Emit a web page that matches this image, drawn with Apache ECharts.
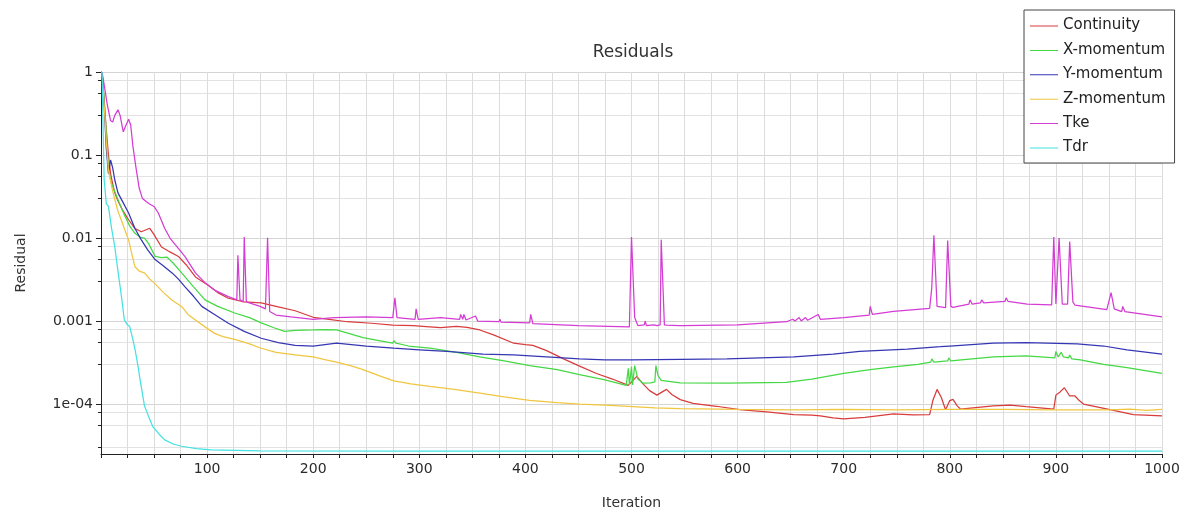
<!DOCTYPE html>
<html><head><meta charset="utf-8">
<script src="https://cdn.jsdelivr.net/npm/echarts@6/dist/echarts.min.js"></script>
<style>html,body{margin:0;padding:0;background:#fff}#c{width:1192px;height:518px}</style>
</head><body><div id="c"></div>
<script>
const seriesNames = ['Continuity', 'X-momentum', 'Y-momentum', 'Z-momentum', 'Tke', 'Tdr'];

const continuity = [[1,1],[3,0.45],[5,0.2],[7,0.1],[9,0.06],[11,0.045],[13,0.035],[16,0.028],[20,0.022],[26,0.0166],[32,0.013],[38,0.0119],[42,0.0125],[46,0.0131],[50,0.011],[57,0.0078],[65,0.0068],[73,0.006],[80,0.0048],[89,0.0034],[101,0.0027],[110,0.0022],[120,0.00188],[135,0.0017],[151,0.00165],[165,0.0015],[183,0.00133],[200,0.00111],[215,0.00105],[232,0.00098],[255,0.00094],[275,0.00089],[294,0.00088],[310,0.00085],[320,0.00083],[335,0.00086],[345,0.00084],[357,0.00078],[370,0.00068],[389,0.00054],[400,0.00052],[407,0.00051],[420,0.00044],[436,0.00035],[450,0.00029],[467,0.000233],[482,0.0002],[497,0.000168],[501,0.00019],[505,0.000215],[510,0.00018],[517,0.000145],[524,0.000128],[529,0.00014],[533,0.00015],[538,0.00013],[546,0.000113],[558,0.000102],[580,0.000094],[602,0.0000854],[630,0.00008],[653,0.0000745],[670,0.0000735],[678,0.0000722],[690,0.000068],[700,0.0000664],[720,0.000069],[747,0.0000759],[765,0.000074],[781,0.0000745],[784,0.00011],[788,0.00015],[792,0.00012],[796,0.0000854],[800,0.00011],[803,0.000114],[807,0.000095],[810,0.000087],[841,0.000095],[857,0.000097],[872,0.000093],[898,0.000087],[900,0.000128],[904,0.00014],[908,0.000157],[913,0.000125],[918,0.000125],[922,0.00011],[926,0.0001],[951,0.0000854],[973,0.0000745],[1000,0.0000722]];

const xMomentum = [[1,1],[3,0.45],[5,0.18],[7,0.066],[10,0.045],[13,0.036],[16,0.029],[22,0.019],[27,0.014],[32,0.0114],[37,0.0102],[41,0.010],[45,0.0085],[51,0.006],[57,0.0058],[62,0.0059],[68,0.005],[76,0.0038],[87,0.0026],[98,0.0018],[110,0.0015],[126,0.00125],[140,0.0011],[151,0.00095],[163,0.00083],[173,0.00075],[183,0.00077],[200,0.00078],[212,0.00079],[222,0.00078],[235,0.0007],[247,0.00063],[262,0.00058],[275,0.00054],[276,0.00058],[278,0.00054],[290,0.0005],[310,0.00047],[335,0.00042],[357,0.00037],[380,0.00033],[404,0.00029],[430,0.00026],[451,0.000226],[475,0.000195],[495,0.000168],[497,0.00027],[498,0.00017],[500,0.00028],[501,0.00017],[503,0.00029],[506,0.0002],[511,0.000178],[518,0.00018],[522,0.000185],[523,0.00029],[525,0.00022],[528,0.000193],[546,0.00018],[590,0.000178],[646,0.000182],[670,0.0002],[700,0.000234],[725,0.00026],[747,0.00028],[770,0.0003],[782,0.00032],[783,0.00035],[785,0.00032],[798,0.00033],[799,0.00036],[801,0.00033],[841,0.00037],[872,0.00038],[899,0.00036],[900,0.00043],[902,0.00037],[905,0.00042],[907,0.00037],[912,0.00036],[913,0.00039],[915,0.00035],[923,0.00034],[945,0.0003],[967,0.000274],[1000,0.000234]];

const yMomentum = [[1,1],[3,0.4],[5,0.12],[7,0.06],[9,0.087],[11,0.07],[13,0.05],[16,0.035],[20,0.028],[26,0.02],[32,0.013],[38,0.0095],[44,0.0072],[51,0.0055],[58,0.0047],[67,0.0038],[73,0.0032],[79,0.0026],[87,0.002],[95,0.0015],[107,0.0012],[120,0.00094],[135,0.00075],[151,0.00062],[167,0.00055],[183,0.00051],[200,0.0005],[222,0.00054],[250,0.0005],[276,0.00047],[300,0.00045],[326,0.00043],[360,0.0004],[389,0.00039],[420,0.00037],[451,0.00035],[475,0.00034],[499,0.00034],[546,0.000346],[590,0.00035],[653,0.00037],[690,0.0004],[715,0.00043],[760,0.00046],[791,0.00049],[800,0.0005],[841,0.00054],[872,0.00055],[920,0.00053],[945,0.0005],[967,0.00045],[1000,0.0004]];

const zMomentum = [[1,1],[3,0.4],[5,0.15],[7,0.066],[10,0.042],[13,0.029],[16,0.021],[19,0.0166],[22,0.013],[26,0.0095],[29,0.0065],[32,0.0045],[36,0.004],[41,0.0038],[46,0.0032],[51,0.0028],[59,0.0022],[67,0.00178],[76,0.0015],[82,0.0012],[89,0.00103],[98,0.00085],[107,0.00071],[115,0.00065],[126,0.0006],[140,0.00053],[151,0.00047],[165,0.00042],[183,0.00039],[200,0.00037],[212,0.00034],[222,0.00032],[235,0.00029],[247,0.00026],[262,0.00022],[276,0.00019],[292,0.000175],[310,0.000163],[333,0.00015],[357,0.000135],[380,0.000122],[404,0.000111],[430,0.000104],[451,0.0001],[475,0.000097],[497,0.000094],[522,0.00009],[546,0.000088],[600,0.000086],[650,0.000085],[700,0.000086],[750,0.000085],[800,0.000086],[850,0.000086],[900,0.000085],[950,0.000085],[970,0.000087],[985,0.000084],[1000,0.000086]];

const tke = [[1,1],[3,0.7],[6,0.4],[9,0.26],[11,0.25],[13,0.3],[16,0.35],[18,0.3],[21,0.19],[23,0.22],[26,0.27],[28,0.23],[30,0.13],[33,0.07],[36,0.04],[39,0.03],[45,0.026],[50,0.024],[54,0.02],[60,0.0131],[65,0.01],[70,0.0083],[79,0.006],[89,0.0038],[98,0.0029],[107,0.00236],[120,0.00197],[128,0.0018],[129,0.0062],[131,0.0018],[134,0.0017],[135,0.0103],[137,0.0017],[150,0.0015],[155,0.0014],[157,0.0101],[159,0.0013],[165,0.00118],[179,0.00112],[200,0.00105],[220,0.0011],[250,0.00112],[275,0.0011],[277,0.0019],[279,0.0011],[296,0.00105],[297,0.0014],[299,0.00105],[320,0.0011],[338,0.00105],[339,0.0012],[341,0.00105],[342,0.0012],[344,0.00103],[353,0.00115],[355,0.001],[375,0.00098],[376,0.00105],[377,0.00097],[404,0.00095],[405,0.0012],[407,0.00093],[450,0.00088],[498,0.00085],[500,0.0103],[503,0.0011],[506,0.00088],[512,0.0009],[513,0.001],[514,0.00088],[521,0.0009],[522,0.00095],[524,0.00088],[527,0.0009],[528,0.0095],[531,0.0009],[533,0.00089],[545,0.00088],[546,0.00093],[548,0.00088],[600,0.0009],[646,0.00098],[652,0.00105],[654,0.001],[658,0.0011],[660,0.001],[664,0.0011],[666,0.00102],[676,0.0012],[678,0.00105],[700,0.0011],[724,0.00118],[725,0.0015],[727,0.0012],[747,0.00131],[781,0.00142],[783,0.0025],[785,0.0108],[788,0.0015],[796,0.00145],[798,0.0093],[801,0.0015],[803,0.00146],[818,0.0016],[819,0.0018],[821,0.0016],[829,0.00165],[830,0.0018],[832,0.00165],[852,0.00172],[853,0.0019],[855,0.00172],[873,0.0016],[896,0.00156],[898,0.0103],[900,0.0016],[903,0.01],[906,0.0016],[911,0.0016],[913,0.0091],[916,0.0017],[918,0.00155],[948,0.00137],[952,0.0022],[955,0.0014],[962,0.0013],[963,0.0015],[965,0.0013],[1000,0.00112]];

const tdr = [[1,1],[2,0.2],[3,0.05],[5,0.026],[7,0.024],[10,0.013],[13,0.0078],[16,0.004],[19,0.0021],[22,0.00103],[25,0.0009],[27,0.00086],[30,0.0006],[32,0.00046],[35,0.00028],[37,0.00019],[41,0.000095],[45,0.00007],[49,0.000053],[55,0.000043],[60,0.000037],[68,0.000033],[76,0.000031],[90,0.000029],[104,0.000028],[150,0.0000272],[300,0.000027],[500,0.000027],[700,0.000027],[1000,0.000027]];

const xMin = 0, xMax = 1000, xInterval = 100;
const yMin = 0.000025, yMax = 1;
const yMinorTicks = [0.8,0.55,0.3, 0.08,0.055,0.03, 0.008,0.0055,0.003, 0.0008,0.00055,0.0003, 0.00008,0.000055,0.00003];

const colors = ['#d83c3c', '#45d845', '#3636b4', '#f0c640', '#d43cd4', '#44e2e2'];
const FONT = 'DejaVu Sans';
const allData = [continuity, xMomentum, yMomentum, zMomentum, tke, tdr];
const LINE_ICON = 'path://M0,0L0.01,0M0,7L28,7L28,8L0,8ZM0,14L0.01,14';

const chart = echarts.init(document.getElementById('c'), null, {renderer: 'canvas'});
chart.setOption({
  animation: false,
  backgroundColor: '#fff',
  textStyle: {fontFamily: FONT},
  title: {
    text: 'Residuals', left: 628, top: 39, textAlign: 'center',
    textStyle: {fontSize: 17, fontWeight: 'normal', color: '#333', fontFamily: FONT}
  },
  legend: {
    orient: 'vertical', left: 1024, top: 10,
    icon: LINE_ICON,
    itemWidth: 28, itemHeight: 14, itemGap: 9.4, itemTextGap: 5,
    padding: [8, 9, 8, 6],
    borderColor: '#444', borderWidth: 1, backgroundColor: '#fff',
    textStyle: {fontSize: 15, color: '#222', fontFamily: FONT},
    data: seriesNames.map(function (n, i) { return {name: n, itemStyle: {color: colors[i]}}; })
  },
  grid: {left: 101, right: 30, top: 72, bottom: 64},
  xAxis: {
    type: 'value', min: xMin, max: xMax, interval: xInterval,
    name: 'Iteration', nameLocation: 'middle', nameGap: 42,
    nameTextStyle: {fontSize: 14, color: '#333', fontFamily: FONT},
    axisLine: {show: true, lineStyle: {color: '#222', width: 1}},
    axisTick: {show: true, length: 4, lineStyle: {color: '#222'}},
    minorTick: {show: true, splitNumber: 4, length: 4, lineStyle: {color: '#222'}},
    splitLine: {show: true, lineStyle: {color: '#dcdcdc', width: 1}},
    minorSplitLine: {show: true, lineStyle: {color: '#dcdcdc', width: 1}},
    axisLabel: {fontSize: 14, color: '#2a2a2a', margin: 8, showMinLabel: false, fontFamily: FONT,
      formatter: function (v) { return String(v); }}
  },
  yAxis: [{
    type: 'log', logBase: 10, min: yMin, max: yMax,
    name: 'Residual', nameLocation: 'middle', nameGap: 73, nameRotate: 90,
    nameTextStyle: {fontSize: 14, color: '#333', fontFamily: FONT},
    axisLine: {show: true, lineStyle: {color: '#222', width: 1}},
    axisTick: {show: true, length: 5, lineStyle: {color: '#222'}},
    splitLine: {show: true, lineStyle: {color: '#d4d4d4', width: 1}},
    axisLabel: {
      fontSize: 14, color: '#2a2a2a', margin: 8, showMinLabel: false, fontFamily: FONT,
      formatter: function (v) {
        if (v >= 0.001) return String(v);
        return v.toExponential(0).replace(/e-(\d)$/, 'e-0$1');
      }
    }
  }, {
    type: 'log', logBase: 10, min: yMin, max: yMax, position: 'left',
    axisLine: {show: false},
    axisTick: {show: true, length: 3, customValues: yMinorTicks, lineStyle: {color: '#222'}},
    axisLabel: {show: false},
    splitLine: {show: true, lineStyle: {color: '#e2e2e2', width: 1}}
  }],
  series: seriesNames.map(function (n, i) {
    return {
      name: n, type: 'line', data: allData[i], yAxisIndex: 0,
      symbol: 'none', showSymbol: false, smooth: false,
      lineStyle: {color: colors[i], width: 1.25},
      itemStyle: {color: colors[i]},
      z: 2 + i
    };
  })
});
</script>
</body></html>
